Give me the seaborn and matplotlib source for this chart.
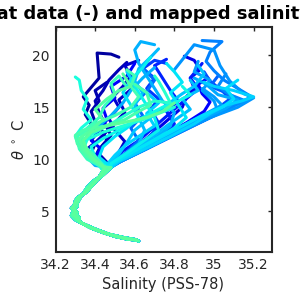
import numpy as np
import pandas as pd
import seaborn as sns
import matplotlib.pyplot as plt

# deep part of the profiles (bottom -> up), three slightly different versions
deep_S = [
    [34.61, 34.58, 34.52, 34.45, 34.38, 34.33, 34.31, 34.29, 34.30, 34.29, 34.30, 34.32, 34.35, 34.37, 34.40, 34.42, 34.44],
    [34.62, 34.60, 34.54, 34.47, 34.40, 34.34, 34.30, 34.28, 34.29, 34.31, 34.30, 34.31, 34.34, 34.36, 34.39, 34.43, 34.46],
    [34.59, 34.56, 34.50, 34.44, 34.37, 34.32, 34.32, 34.30, 34.31, 34.28, 34.31, 34.33, 34.36, 34.38, 34.41, 34.44, 34.48],
]
deep_T = [
    [2.25, 2.3, 2.55, 2.9, 3.4, 3.9, 4.3, 4.7, 5.0, 5.4, 5.9, 6.4, 6.8, 7.2, 7.8, 8.3, 8.9],
    [2.15, 2.3, 2.5, 2.8, 3.3, 3.8, 4.2, 4.6, 5.1, 5.5, 6.0, 6.3, 6.7, 7.3, 7.9, 8.4, 9.0],
    [2.3, 2.35, 2.6, 3.0, 3.5, 4.0, 4.4, 4.8, 4.9, 5.3, 5.8, 6.5, 6.9, 7.4, 8.0, 8.5, 9.2],
]

# upper parts of each float profile: colour value, deep version, salinity, theta
prof_c = [0.03, 0.05, 0.06, 0.07, 0.09, 0.11, 0.12,
          0.16, 0.18, 0.20, 0.22, 0.23,
          0.25, 0.27, 0.28, 0.29, 0.30, 0.30, 0.31, 0.32, 0.33, 0.34, 0.35, 0.36,
          0.38, 0.40, 0.42, 0.43, 0.44, 0.45, 0.46,
          0.26, 0.28, 0.31, 0.33, 0.35, 0.37, 0.39, 0.04, 0.15]
prof_deep = [0, 1, 2, 0, 1, 2, 0,
             1, 2, 0, 1, 2,
             0, 1, 2, 0, 1, 2, 0, 1, 2, 0, 1, 2,
             0, 1, 2, 0, 1, 2, 0,
             1, 2, 0, 1, 2, 0, 1, 2, 0]
prof_S = [
    [34.42, 34.38, 34.40, 34.36, 34.38, 34.35, 34.37, 34.34, 34.38, 34.42, 34.41, 34.48, 34.52],
    [34.46, 34.42, 34.44, 34.48, 34.45, 34.42, 34.40, 34.44, 34.47, 34.52, 34.56],
    [34.43, 34.39, 34.36, 34.40, 34.45, 34.50, 34.55, 34.52, 34.58, 34.60, 34.56],
    [34.48, 34.52, 34.55, 34.50, 34.47, 34.52, 34.49, 34.54, 34.58, 34.55, 34.62],
    [34.50, 34.58, 34.66, 34.72, 34.78, 34.84, 34.86, 34.90, 34.88, 34.93, 34.90, 34.85],
    [34.50, 34.62, 34.74, 34.86, 34.95, 34.98, 34.94, 34.92, 34.97],
    [34.45, 34.40, 34.43, 34.38, 34.42, 34.46, 34.44, 34.50, 34.48, 34.56, 34.60],
    [34.52, 34.64, 34.74, 34.80, 34.76, 34.82, 34.78, 34.74, 34.70, 34.76],
    [34.50, 34.60, 34.68, 34.72, 34.68, 34.72, 34.66, 34.70, 34.64, 34.70, 34.76],
    [34.53, 34.66, 34.80, 34.92, 35.02, 35.08, 35.04, 34.98, 34.95],
    [34.53, 34.66, 34.82, 34.96, 35.08, 35.14, 35.06, 34.98, 35.02],
    [34.49, 34.56, 34.62, 34.58, 34.64, 34.60, 34.66, 34.70, 34.64, 34.68],
    [34.53, 34.68, 34.85, 35.00, 35.10, 35.19, 35.12, 35.05, 35.00, 34.96, 34.98, 35.04, 34.94],
    [34.52, 34.66, 34.82, 34.98, 35.12, 35.20, 35.15, 35.08, 35.03, 35.00, 34.90, 34.85, 34.80],
    [34.50, 34.62, 34.75, 34.90, 35.02, 35.00, 34.94, 34.98, 34.90, 34.92],
    [34.51, 34.64, 34.78, 34.94, 35.06, 35.12, 35.02, 34.96, 34.90],
    [34.48, 34.58, 34.70, 34.78, 34.80, 34.74, 34.70, 34.66, 34.62, 34.60, 34.63, 34.70],
    [34.40, 34.36, 34.33, 34.36, 34.42, 34.48, 34.54, 34.58, 34.64, 34.70],
    [34.47, 34.55, 34.62, 34.65, 34.62, 34.60, 34.64, 34.60, 34.62, 34.68, 34.72],
    [34.46, 34.52, 34.56, 34.60, 34.68, 34.76, 34.84, 34.90, 34.95, 34.92],
    [34.52, 34.64, 34.78, 34.90, 34.98, 35.06, 35.14, 35.20, 35.10, 35.00, 34.95],
    [34.50, 34.60, 34.72, 34.84, 34.94, 35.04, 35.10, 35.06, 35.12],
    [34.49, 34.58, 34.70, 34.80, 34.86, 34.82, 34.78, 34.84, 34.80, 34.76],
    [34.48, 34.56, 34.64, 34.72, 34.70, 34.66, 34.62, 34.58, 34.64, 34.68],
    [34.42, 34.36, 34.32, 34.30, 34.33, 34.38, 34.34, 34.36, 34.33, 34.32, 34.30],
    [34.43, 34.38, 34.34, 34.33, 34.40, 34.48, 34.55, 34.62, 34.70, 34.78, 34.75, 34.72, 34.70],
    [34.44, 34.36, 34.32, 34.31, 34.36, 34.42, 34.45, 34.50, 34.48, 34.52, 34.55],
    [34.44, 34.40, 34.35, 34.33, 34.40, 34.50, 34.58, 34.62, 34.58, 34.60, 34.56],
    [34.43, 34.35, 34.31, 34.30, 34.34, 34.45, 34.55, 34.62, 34.68, 34.66, 34.60],
    [34.44, 34.38, 34.34, 34.32, 34.38, 34.44, 34.40, 34.46, 34.52, 34.58, 34.54],
    [34.45, 34.40, 34.36, 34.34, 34.38, 34.46, 34.56, 34.66, 34.74, 34.80],
    [34.52, 34.62, 34.74, 34.88, 35.00, 35.08, 35.16, 35.08, 35.02, 35.06],
    [34.50, 34.58, 34.68, 34.78, 34.88, 34.96, 35.04, 35.00, 34.94],
    [34.48, 34.54, 34.62, 34.70, 34.76, 34.82, 34.88, 34.84, 34.92, 34.88],
    [34.46, 34.50, 34.55, 34.62, 34.70, 34.66, 34.72, 34.66, 34.60, 34.56],
    [34.47, 34.42, 34.44, 34.50, 34.56, 34.62, 34.58, 34.54, 34.58, 34.62],
    [34.45, 34.40, 34.38, 34.44, 34.52, 34.60, 34.68, 34.74, 34.82, 34.88, 34.84],
    [34.44, 34.38, 34.34, 34.36, 34.44, 34.54, 34.64, 34.72, 34.80],
    [34.44, 34.40, 34.42, 34.46, 34.44, 34.40, 34.38, 34.42, 34.40, 34.46],
    [34.48, 34.54, 34.62, 34.68, 34.74, 34.80, 34.86, 34.92, 34.88, 34.94],
]
prof_T = [
    [9.8, 10.6, 11.5, 12.4, 13.4, 14.3, 15.2, 16.0, 16.9, 17.8, 20.2, 20.1, 19.8],
    [9.7, 10.5, 11.4, 12.3, 13.4, 14.5, 15.6, 16.6, 17.6, 18.6, 19.3],
    [9.5, 10.2, 11.0, 11.6, 12.5, 13.5, 14.5, 15.7, 16.7, 17.8, 18.6],
    [9.8, 10.7, 11.7, 12.8, 13.9, 15.0, 16.0, 17.0, 18.0, 19.0, 19.5],
    [9.9, 10.9, 12.0, 13.0, 14.0, 15.0, 16.0, 16.8, 17.8, 18.6, 19.5, 19.9],
    [9.9, 11.0, 12.2, 13.5, 14.6, 15.5, 16.3, 17.2, 17.8],
    [9.6, 10.3, 11.0, 11.8, 12.8, 13.8, 14.9, 15.9, 17.0, 18.0, 19.2],
    [9.9, 11.0, 12.2, 13.4, 14.6, 15.6, 16.6, 17.8, 19.0, 19.6],
    [9.9, 11.0, 12.2, 13.5, 14.8, 15.8, 16.8, 17.8, 18.7, 19.5, 19.2],
    [9.9, 11.1, 12.5, 13.8, 14.9, 15.8, 16.6, 17.5, 18.4],
    [9.8, 11.0, 12.5, 13.8, 14.9, 15.6, 16.4, 17.0, 18.0],
    [9.7, 10.7, 11.8, 13.0, 14.2, 15.4, 16.5, 17.6, 18.8, 19.8],
    [9.8, 11.2, 12.8, 14.2, 15.2, 16.0, 16.8, 17.6, 18.5, 19.4, 20.3, 21.3, 21.4],
    [9.7, 11.0, 12.6, 14.0, 15.0, 15.9, 16.3, 17.5, 19.0, 20.5, 21.0, 19.8, 18.6],
    [9.6, 10.8, 12.2, 13.6, 14.6, 15.6, 16.6, 17.6, 18.4, 19.4],
    [9.7, 10.9, 12.4, 13.9, 14.9, 15.7, 16.2, 17.2, 17.8],
    [9.6, 10.7, 12.0, 13.2, 14.5, 15.6, 16.8, 18.0, 19.2, 20.5, 21.3, 21.0],
    [9.4, 10.2, 11.2, 12.2, 13.2, 14.2, 15.4, 16.6, 17.8, 18.8],
    [9.5, 10.5, 11.5, 12.8, 14.0, 15.2, 16.4, 17.5, 18.7, 19.8, 20.6],
    [9.5, 10.5, 11.6, 12.8, 14.0, 15.2, 16.3, 17.0, 18.2, 19.0],
    [9.8, 10.9, 12.2, 13.4, 14.4, 15.2, 15.6, 16.0, 16.6, 17.0, 17.4],
    [9.7, 10.8, 12.0, 13.2, 14.2, 15.0, 15.8, 16.8, 17.6],
    [9.6, 10.6, 11.9, 13.0, 14.0, 15.2, 16.4, 17.4, 18.4, 19.2],
    [9.6, 10.6, 11.7, 12.8, 14.0, 15.2, 16.4, 17.6, 18.8, 19.8],
    [9.4, 10.2, 11.2, 12.2, 13.0, 13.8, 14.8, 15.8, 16.6, 17.6, 17.9],
    [9.3, 10.0, 10.8, 11.8, 12.6, 13.4, 14.2, 15.0, 15.6, 15.4, 16.5, 17.5, 18.0],
    [9.2, 10.0, 11.0, 12.2, 13.0, 14.0, 15.2, 16.2, 17.3, 18.0, 17.2],
    [9.4, 10.3, 11.2, 12.4, 13.4, 14.2, 15.0, 16.0, 17.0, 18.0, 18.6],
    [9.4, 10.4, 11.5, 12.3, 12.8, 13.2, 13.8, 14.6, 15.2, 16.4, 17.2],
    [9.3, 10.1, 11.0, 12.0, 12.8, 13.8, 14.8, 15.8, 16.6, 17.0, 18.2],
    [9.2, 9.9, 10.8, 11.8, 12.6, 13.2, 13.6, 14.0, 14.6, 15.4],
    [9.7, 10.7, 11.9, 13.2, 14.2, 15.0, 15.6, 16.2, 17.0, 18.2],
    [9.6, 10.5, 11.5, 12.6, 13.6, 14.4, 15.2, 16.0, 16.8],
    [9.5, 10.3, 11.3, 12.3, 13.2, 14.0, 14.8, 15.8, 16.6, 17.6],
    [9.5, 10.4, 11.3, 12.2, 13.2, 14.4, 15.4, 16.4, 17.2, 18.4],
    [9.4, 10.2, 11.2, 12.2, 13.0, 14.0, 15.2, 16.4, 17.6, 18.4],
    [9.4, 10.2, 11.2, 12.0, 12.8, 13.6, 14.4, 15.0, 15.6, 16.2, 17.0],
    [9.3, 10.1, 11.0, 11.9, 12.6, 13.2, 13.8, 14.4, 15.0],
    [9.6, 10.2, 11.0, 11.8, 12.6, 13.6, 14.6, 15.6, 16.6, 17.4],
    [9.8, 10.8, 11.8, 12.8, 13.8, 14.8, 15.8, 16.8, 17.8, 19.2],
]

xticks = [34.2, 34.4, 34.6, 34.8, 35.0, 35.2]
xtick_labels = ["34.2", "34.4", "34.6", "34.8", "35", "35.2"]
yticks = [5, 10, 15, 20]

sns.set_style("white")
plt.rcParams['font.family'] = ['DejaVu Sans']

fig = plt.figure(figsize=(3, 3), dpi=100)
ax = fig.add_axes([0.185, 0.16, 0.72, 0.75])

cmap = plt.get_cmap("jet")
# draw in order of colour value so the greener profiles end up on top
profiles = sorted(zip(prof_c, prof_deep, prof_S, prof_T), key=lambda p: p[0])
for c, d, s_up, t_up in profiles:
    df = pd.DataFrame({"S": deep_S[d] + s_up, "T": deep_T[d] + t_up})
    sns.lineplot(data=df, x="S", y="T", sort=False, estimator=None,
                 color=cmap(c), lw=2.2, ax=ax, solid_joinstyle="round")

ax.set_xlim(34.2, 35.29)
ax.set_ylim(1.1, 22.7)
ax.set_xticks(xticks)
ax.set_xticklabels(xtick_labels)
ax.set_yticks(yticks)
ax.tick_params(direction="in", length=3, width=1, top=True, right=True,
               labelsize=10, colors="#262626", pad=4)
for sp in ax.spines.values():
    sp.set_color("#262626")
    sp.set_linewidth(1.5)
ax.set_xlabel("Salinity (PSS-78)", fontsize=10.5, color="#262626")
ax.set_ylabel(r"$\theta$ $^\circ$ C", fontsize=10.5, color="#262626")
ax.set_title("Float data (-) and mapped salinity", fontweight="bold", fontsize=13,
             pad=6, x=0.385, color="black")

fig.savefig("out.png", dpi=100)
